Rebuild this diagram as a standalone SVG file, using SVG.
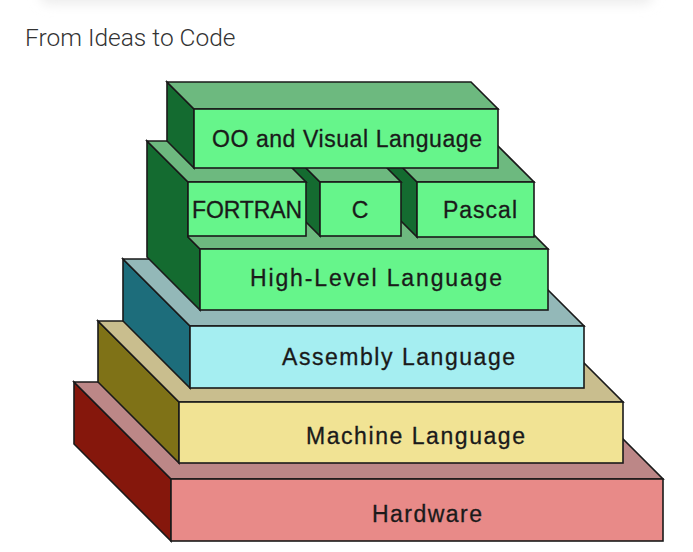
<svg xmlns="http://www.w3.org/2000/svg" width="693" height="552" viewBox="0 0 693 552">
<defs>
<filter id="blur" x="-10%" y="-100%" width="120%" height="300%"><feGaussianBlur stdDeviation="6"/></filter>
<style>
.e{stroke:#1a1a1a;stroke-width:1.6;stroke-linejoin:miter}
.t{font-family:"Liberation Sans",Arial,sans-serif;font-size:23px;fill:#1a1a1a;text-anchor:middle;stroke:#1a1a1a;stroke-width:0.3}
.hwF{fill:#E88A88}.hwS{fill:#85170C}.hwT{fill:#BC8787}
.mlF{fill:#F1E394}.mlS{fill:#7F7217}.mlT{fill:#C9BE8E}
.alF{fill:#A5EEF1}.alS{fill:#1D6D7B}.alT{fill:#93B8B8}
.gF{fill:#66F58B}.gS{fill:#146B30}.gT{fill:#6DB97F}
</style>
</defs>
<rect width="693" height="552" fill="#ffffff"/>
<rect x="40" y="-14" width="613" height="18" rx="9" fill="#ececec" filter="url(#blur)"/>
<text x="25" y="46" font-family="Roboto,'Liberation Sans',sans-serif" font-weight="300" font-size="24.5" fill="#333333">From Ideas to Code</text>

<g id="hardware">
<polygon class="hwS e" points="74,382 171,479 171,541 74,444"/>
<polygon class="hwT e" points="74,382 566,382 663,479 171,479"/>
<rect class="hwF e" x="171" y="479" width="492" height="62"/>
<text class="t" x="427" y="522" textLength="110" lengthAdjust="spacing">Hardware</text>
</g>

<g id="machine">
<polygon class="mlS e" points="98,321 179,402 179,463 98,382"/>
<polygon class="mlT e" points="98,321 542,321 623,402 179,402"/>
<rect class="mlF e" x="179" y="402" width="444" height="61"/>
<text class="t" x="415.5" y="444" textLength="219" lengthAdjust="spacing">Machine Language</text>
</g>

<g id="assembly">
<polygon class="alS e" points="123,259 190,326 190,388 123,321"/>
<polygon class="alT e" points="123,259 517,259 584,326 190,326"/>
<rect class="alF e" x="190" y="326" width="394" height="62"/>
<text class="t" x="398.5" y="365" textLength="233" lengthAdjust="spacing">Assembly Language</text>
</g>

<g id="highlevel">
<polygon class="gS e" points="147,141 188,182 188,237 200,249 200,310 147,257"/>
<polygon class="gT e" points="188,196 495,196 548,249 200,249 188,237"/>
<rect class="gF e" x="200" y="249" width="348" height="61"/>
<text class="t" x="376" y="286" textLength="252" lengthAdjust="spacing">High-Level Language</text>
</g>

<g id="pascal">
<polygon class="gS e" points="376,141 417,182 417,237 376,196"/>
<polygon class="gT e" points="376,141 493,141 534,182 417,182"/>
<rect class="gF e" x="417" y="182" width="117" height="55"/>
<text class="t" x="480" y="218" textLength="74" lengthAdjust="spacing">Pascal</text>
</g>

<g id="c">
<polygon class="gS e" points="279,141 320,182 320,236 279,195"/>
<polygon class="gT e" points="279,141 360,141 401,182 320,182"/>
<rect class="gF e" x="320" y="182" width="81" height="54"/>
<text class="t" x="360" y="218">C</text>
</g>

<g id="fortran">
<polygon class="gT e" points="147,141 265,141 306,182 188,182"/>
<rect class="gF e" x="188" y="182" width="118" height="54"/>
<text class="t" x="247" y="218" textLength="110" lengthAdjust="spacing">FORTRAN</text>
</g>

<g id="oo">
<polygon class="gS e" points="167,82 194,109 194,168 167,141"/>
<polygon class="gT e" points="167,82 471,82 498,109 194,109"/>
<rect class="gF e" x="194" y="109" width="304" height="59"/>
<text class="t" x="347" y="147" textLength="270" lengthAdjust="spacing">OO and Visual Language</text>
</g>

<g id="connectors"/>
</svg>
